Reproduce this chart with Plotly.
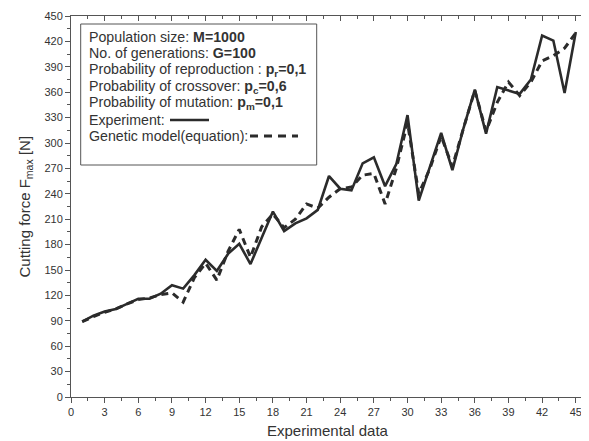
import plotly.graph_objects as go

experiment_no = list(range(1, 46))
force_experiment = [89, 96, 101, 104, 110, 116, 116, 122, 132, 128,
                    144, 162, 149, 169, 181, 157, 188, 219, 196, 205,
                    211, 221, 261, 246, 244, 276, 283, 249, 275, 333,
                    232, 273, 312, 268, 318, 363, 311, 366, 362, 358,
                    375, 427, 421, 359, 431]
force_model = [89, 95, 100, 104, 110, 115, 117, 121, 123, 112,
               141, 158, 138, 172, 198, 165, 201, 216, 200, 210,
               228, 223, 236, 246, 248, 262, 264, 228, 270, 324,
               240, 270, 308, 272, 318, 362, 314, 348, 372, 356,
               372, 397, 403, 412, 430]
x_ticks = list(range(0, 46, 3))
y_ticks = list(range(0, 451, 30))

legend_lines = [
    "Population size: <b>M=1000</b>",
    "No. of generations: <b>G=100</b>",
    "Probability of reproduction : <b>p<sub>r</sub>=0,1</b>",
    "Probability of crossover: <b>p<sub>c</sub>=0,6</b>",
    "Probability of mutation: <b>p<sub>m</sub>=0,1</b>",
    "Experiment:",
    "Genetic model(equation):",
]

# page body has an 8px margin; compensate so plot area sits at page px 71..587 x 16..397
OFF = 8
W, H = 589 - OFF, 441 - OFF
PL, PR, PT, PB = 71, 587, 16, 397
L, T = PL - OFF, PT - OFF
R = W - (PR - OFF)
B = H - (PB - OFF)
pw, ph = PR - PL, PB - PT

def px(xp):
    return (xp - PL) / pw

def py(yp):
    return (PB - yp) / ph

LINE = "#2b2b2b"
AX = "#555555"
TXT = "#333333"
FAM = "Liberation Sans, Arial"

fig = go.Figure()
fig.add_trace(go.Scatter(x=experiment_no, y=force_experiment, mode="lines",
                         line=dict(color=LINE, width=2.6), showlegend=False))
fig.add_trace(go.Scatter(x=experiment_no, y=force_model, mode="lines",
                         line=dict(color=LINE, width=3, dash="7px,5px"), showlegend=False))
fig.add_trace(go.Scatter(x=[None], y=[None], xaxis="x2", yaxis="y2", showlegend=False, hoverinfo="skip"))

common = dict(showgrid=False, zeroline=False, showline=True, linecolor=AX, linewidth=1,
              tickcolor=AX, tickfont=dict(family=FAM, size=11, color=TXT))

fig.update_layout(
    width=W, height=H,
    margin=dict(l=L, r=R, t=T, b=B),
    paper_bgcolor="white", plot_bgcolor="white",
    xaxis=dict(range=[0, 46], tickmode="array", tickvals=x_ticks, ticks="outside", ticklen=5,
               minor=dict(ticks="outside", ticklen=3, dtick=1.5, tick0=0, tickcolor=AX), **common),
    yaxis=dict(range=[0, 450], tickmode="array", tickvals=y_ticks, ticks="outside", ticklen=5,
               minor=dict(ticks="outside", ticklen=3, dtick=15, tick0=0, tickcolor=AX), **common),
    xaxis2=dict(overlaying="x", side="top", range=[0, 46], tickmode="array", tickvals=x_ticks,
                ticks="inside", ticklen=5, showticklabels=False,
                minor=dict(ticks="inside", ticklen=3, dtick=1.5, tick0=0, tickcolor=AX), **common),
    yaxis2=dict(overlaying="y", side="right", range=[0, 450], tickmode="array", tickvals=y_ticks,
                ticks="inside", ticklen=5, showticklabels=False,
                minor=dict(ticks="inside", ticklen=3, dtick=15, tick0=0, tickcolor=AX), **common),
)

fnt = dict(family=FAM, size=14.2, color=TXT)
line_y = [36.7, 53.3, 70, 86.7, 103.3, 120, 136]
for txt, yy in zip(legend_lines, line_y):
    fig.add_annotation(x=px(87), y=py(yy), xref="paper", yref="paper", text=txt,
                       showarrow=False, xanchor="left", yanchor="middle", font=fnt)

fig.add_shape(type="rect", xref="paper", yref="paper", x0=px(80.7), x1=px(316.7),
              y0=py(165), y1=py(24), line=dict(color=AX, width=1), fillcolor="rgba(0,0,0,0)")
fig.add_shape(type="line", xref="paper", yref="paper", x0=px(170), x1=px(209),
              y0=py(120), y1=py(120), line=dict(color=LINE, width=2.6))
fig.add_shape(type="line", xref="paper", yref="paper", x0=px(250), x1=px(298),
              y0=py(136), y1=py(136), line=dict(color=LINE, width=3, dash="8px,6px"))

fig.add_annotation(x=px(328), y=py(431), xref="paper", yref="paper", text="Experimental data",
                   showarrow=False, xanchor="center", yanchor="middle",
                   font=dict(family=FAM, size=15, color=TXT))
fig.add_annotation(x=px(25), y=0.5, xref="paper", yref="paper",
                   text="Cutting force F<sub>max</sub> [N]", textangle=-90,
                   showarrow=False, xanchor="center", yanchor="middle",
                   font=dict(family=FAM, size=15, color=TXT))

fig.write_html("out.html")
